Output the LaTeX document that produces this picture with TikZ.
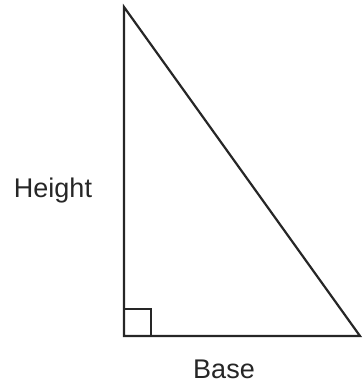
\documentclass[tikz,border=0pt]{standalone}
\usepackage{fontspec}
\setmainfont{Liberation Sans}
\begin{document}
\begin{tikzpicture}[x=1pt,y=-1pt,
  edge/.style={line width=2.2pt,black!85,line join=miter},
  mark/.style={},
  lbl/.style={font=\fontsize{27}{30}\selectfont,text=black!85,inner sep=0pt,anchor=base}]
\useasboundingbox (0,0) rectangle (362,385);
\coordinate (A) at (124,7);
\coordinate (B) at (124,336);
\coordinate (C) at (360,336);
\coordinate (S1) at (124,309);
\coordinate (S2) at (151,309);
\coordinate (S3) at (151,336);
\draw[edge] (A) -- (B) -- (C) -- cycle;
\draw[line width=1.8pt,black!85] (S1) -- (S2) -- (S3);
\node[lbl] (h) at (53,197) {Height};
\node[lbl] (b) at (224,378) {Base};
\end{tikzpicture}
\end{document}
